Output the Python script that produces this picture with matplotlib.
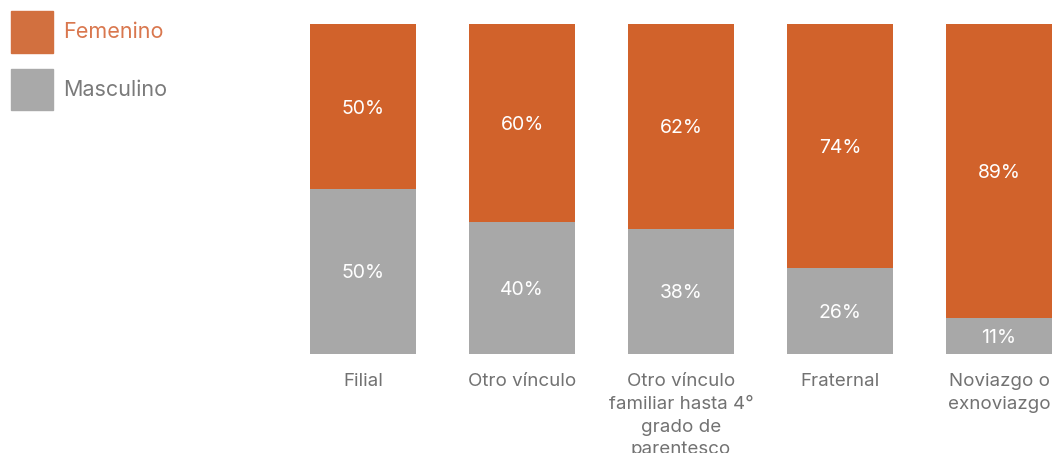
import matplotlib.pyplot as plt
from matplotlib.patches import Patch

categories = ['Filial', 'Otro vínculo', 'Otro vínculo\nfamiliar hasta 4°\ngrado de\nparentesco',
              'Fraternal', 'Noviazgo o\nexnoviazgo']
masculino = [50, 40, 38, 26, 11]
femenino = [50, 60, 62, 74, 89]

orange = '#D1622B'
gray = '#A8A8A8'

plt.rcParams['font.family'] = ['Inter', 'DejaVu Sans']

fig = plt.figure(figsize=(10.52, 4.53), dpi=100)
W, H = 1052, 453
# axes placed so that bars line up with the reference (last bar is cut at the right edge)
ax = fig.add_axes([283.5 / W, 99 / H, 795 / W, 330 / H])

x = list(range(len(categories)))
b1 = ax.bar(x, masculino, width=0.667, color=gray)
b2 = ax.bar(x, femenino, bottom=masculino, width=0.667, color=orange)

for i in x:
    ax.text(i, masculino[i] / 2, f'{masculino[i]}%', ha='center', va='center_baseline',
            color='white', fontsize=14)
    ax.text(i, masculino[i] + femenino[i] / 2, f'{femenino[i]}%', ha='center',
            va='center_baseline', color='white', fontsize=14)

ax.set_xlim(-0.5, 4.5)
ax.set_ylim(0, 100)
ax.set_xticks(x)
ax.set_xticklabels(categories, fontsize=13.5, color='#727272', linespacing=1.43, va='top')
ax.tick_params(axis='x', length=0, pad=14)
ax.set_yticks([])
for s in ax.spines.values():
    s.set_visible(False)

handles = [Patch(color='#D2703F'), Patch(color='#A9A9A9')]
leg = fig.legend(handles, ['Femenino', 'Masculino'], loc='upper left',
                 bbox_to_anchor=(11 / W, 1 - 11 / H), frameon=False,
                 prop={'size': 15.5},
                 handlelength=1.95, handleheight=2.6, labelspacing=0.75,
                 handletextpad=0.45, borderpad=0, borderaxespad=0)
leg.get_texts()[0].set_color('#D9774E')
leg.get_texts()[1].set_color('#7A7A7A')

fig.savefig('out.png', dpi=100)
